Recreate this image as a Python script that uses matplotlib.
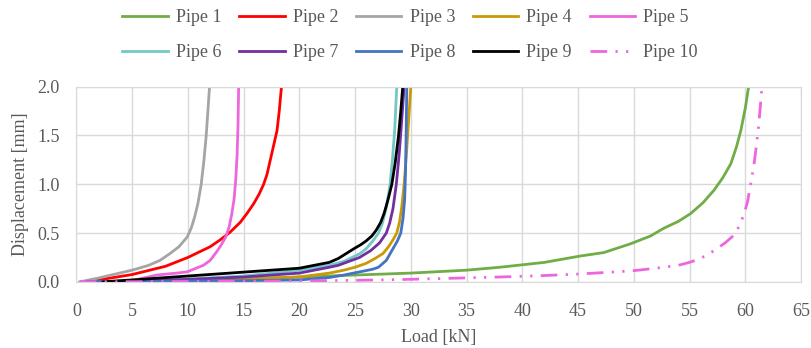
import matplotlib
matplotlib.use("Agg")
import matplotlib.pyplot as plt
from matplotlib.ticker import FormatStrFormatter

plt.rcParams['font.family'] = ['Liberation Serif', 'DejaVu Serif']

# Load [kN] / displacement [mm]
pipe1_x = [0.5, 5, 10, 15, 20, 25, 30, 35, 38, 40, 42, 45.2, 47.3, 49.7, 51.5, 52.7, 54, 55.1, 56.2, 57.2, 58.0, 58.7, 59.2, 59.6, 60.0, 60.3]
pipe1_y = [0, 0.005, 0.015, 0.03, 0.05, 0.07, 0.09, 0.12, 0.15, 0.175, 0.2, 0.265, 0.3, 0.39, 0.47, 0.55, 0.62, 0.7, 0.81, 0.94, 1.07, 1.21, 1.38, 1.55, 1.78, 2.0]

pipe2_x = [0.5, 2, 5, 8, 10, 12, 12.9, 13.8, 14.7, 15.3, 15.9, 16.4, 16.8, 17.1, 17.4, 17.7, 18.0, 18.2, 18.4]
pipe2_y = [0, 0.02, 0.075, 0.16, 0.25, 0.36, 0.43, 0.51, 0.61, 0.7, 0.8, 0.9, 1.0, 1.1, 1.25, 1.4, 1.55, 1.75, 2.0]

pipe3_x = [0.3, 2, 3.5, 5, 6.5, 7.5, 8.4, 9.2, 9.95, 10.3, 10.6, 10.9, 11.2, 11.45, 11.65, 11.8, 11.95]
pipe3_y = [0, 0.04, 0.08, 0.12, 0.17, 0.22, 0.29, 0.36, 0.46, 0.55, 0.66, 0.8, 1.0, 1.25, 1.5, 1.75, 2.0]

pipe4_x = [1, 5, 10, 15, 20, 22.7, 24, 25, 26, 26.8, 27.5, 28.0, 28.4, 28.74, 29.0, 29.2, 29.4, 29.6, 29.8, 30.0]
pipe4_y = [0, 0.005, 0.015, 0.03, 0.05, 0.09, 0.12, 0.15, 0.19, 0.24, 0.29, 0.36, 0.43, 0.5, 0.62, 0.78, 1.0, 1.3, 1.65, 2.0]

pipe5_x = [0.5, 3, 4.9, 7.2, 9, 9.95, 11.4, 12.0, 12.6, 13.0, 13.4, 13.7, 13.95, 14.15, 14.3, 14.42, 14.5, 14.56]
pipe5_y = [0, 0.005, 0.01, 0.07, 0.09, 0.103, 0.17, 0.22, 0.31, 0.38, 0.46, 0.56, 0.7, 0.85, 1.05, 1.3, 1.6, 2.0]

pipe6_x = [1, 5, 10, 15, 20, 22.7, 24, 25.45, 26, 26.6, 27.1, 27.45, 27.8, 28.14, 28.35, 28.55, 28.74]
pipe6_y = [0, 0.01, 0.03, 0.06, 0.12, 0.17, 0.21, 0.29, 0.34, 0.42, 0.5, 0.6, 0.76, 1.0, 1.25, 1.55, 2.0]

pipe7_x = [1, 5, 10, 15, 20, 22.7, 23.5, 25.4, 26.4, 27.2, 27.8, 28.1, 28.4, 28.7, 28.95, 29.15, 29.4]
pipe7_y = [0, 0.008, 0.025, 0.05, 0.09, 0.15, 0.17, 0.25, 0.32, 0.4, 0.5, 0.6, 0.75, 1.0, 1.3, 1.6, 2.0]

pipe8_x = [1, 5, 10, 15, 20, 22.7, 24, 26.6, 27.1, 27.8, 28.4, 28.8, 29.1, 29.3, 29.45, 29.52, 29.58, 29.64]
pipe8_y = [0, 0.003, 0.008, 0.012, 0.02, 0.045, 0.07, 0.13, 0.15, 0.22, 0.34, 0.42, 0.5, 0.65, 0.85, 1.1, 1.5, 2.0]

pipe9_x = [2.4, 5, 10, 15, 20, 22.7, 23.5, 24.9, 25.5, 26.0, 26.5, 26.9, 27.3, 27.6, 27.95, 28.3, 28.6, 28.9, 29.1, 29.28]
pipe9_y = [0, 0.02, 0.06, 0.1, 0.14, 0.2, 0.24, 0.34, 0.38, 0.42, 0.47, 0.53, 0.61, 0.7, 0.84, 1.0, 1.22, 1.5, 1.75, 2.0]

pipe10_x = [0.3, 5, 10, 15, 20, 25, 29, 33, 38, 42, 45, 48, 50, 52, 54, 55, 56, 57.2, 58.2, 59, 59.5, 59.9, 60.2, 60.4, 60.6, 60.8, 61.0, 61.2, 61.35, 61.5]
pipe10_y = [0, 0.002, 0.004, 0.006, 0.01, 0.016, 0.024, 0.035, 0.05, 0.065, 0.08, 0.1, 0.115, 0.14, 0.17, 0.2, 0.24, 0.32, 0.4, 0.48, 0.58, 0.7, 0.82, 0.95, 1.08, 1.22, 1.4, 1.6, 1.8, 2.0]

labels = ['Pipe 1', 'Pipe 2', 'Pipe 3', 'Pipe 4', 'Pipe 5',
          'Pipe 6', 'Pipe 7', 'Pipe 8', 'Pipe 9', 'Pipe 10']
colors = ['#70AD47', '#FF0000', '#A5A5A5', '#C99A06', '#EE66DD',
          '#72C7C7', '#7030A0', '#4472C4', '#000000', '#EE66DD']

series = [(pipe1_x, pipe1_y), (pipe2_x, pipe2_y), (pipe3_x, pipe3_y),
          (pipe4_x, pipe4_y), (pipe5_x, pipe5_y), (pipe6_x, pipe6_y),
          (pipe7_x, pipe7_y), (pipe8_x, pipe8_y), (pipe9_x, pipe9_y),
          (pipe10_x, pipe10_y)]

text_col = '#595959'
grid_col = '#D9D9D9'

fig = plt.figure(figsize=(8.12, 3.48), dpi=100)
ax = fig.add_axes([0.094, 0.19, 0.8925, 0.561])

lines = []
for (x, y), lab, c in zip(series, labels, colors):
    if lab == 'Pipe 10':
        ln, = ax.plot(x, y, color=c, lw=2.0, label=lab, dashes=(6, 3, 0.8, 3, 0.8, 3))
    else:
        ln, = ax.plot(x, y, color=c, lw=2.0, label=lab)
    lines.append(ln)

ax.set_xlim(0, 65)
ax.set_ylim(0, 2.0)
ax.set_xticks(range(0, 66, 5))
ax.set_yticks([0, 0.5, 1.0, 1.5, 2.0])
ax.yaxis.set_major_formatter(FormatStrFormatter('%.1f'))
ax.grid(True, color=grid_col, lw=1.0)
ax.set_axisbelow(True)
for s in ax.spines.values():
    s.set_color(grid_col)
ax.tick_params(length=0, labelsize=13, colors=text_col, pad=12)
ax.tick_params(axis='x', pad=15)
ax.set_xlabel('Load [kN]', fontsize=13, color=text_col, labelpad=7)
ax.set_ylabel('Displacement [mm]', fontsize=13, color=text_col, labelpad=6)

# legend fills column by column, so reorder to get rows 1-5 and 6-10
order = [0, 5, 1, 6, 2, 7, 3, 8, 4, 9]
leg = fig.legend(handles=[lines[i] for i in order], labels=[labels[i] for i in order],
                 loc='upper center', bbox_to_anchor=(0.505, 1.02),
                 ncol=5, frameon=False, fontsize=13, handlelength=2.5, handletextpad=0.45,
                 columnspacing=1.0, labelspacing=1.0)
for t in leg.get_texts():
    t.set_color(text_col)

fig.savefig('out.png', dpi=100)
